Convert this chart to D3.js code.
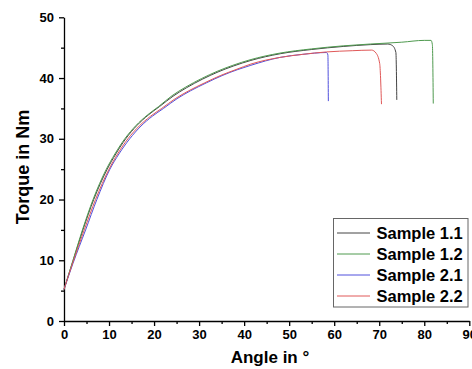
<!DOCTYPE html>
<html>
<head>
<meta charset="utf-8">
<script src="https://cdn.jsdelivr.net/npm/d3@7"></script>
<style>
body { margin: 0; background: #fff; }
text { font-family: Arial, "Liberation Sans", sans-serif; font-weight: bold; fill: #000; }
</style>
</head>
<body>
<svg width="472" height="369"></svg>
<script>
// series (angle in deg, torque in Nm)
var s11Angle  = [0, 2, 4.2, 6.6, 9.6, 11.5, 13.7, 16.2, 18.7, 21.2, 24.2, 27.2, 30.7, 34.2, 37.7, 41.5, 48, 55, 62, 68, 71.9, 73.0, 73.7, 73.9];
var s11Torque = [5.2, 9.9, 15, 20, 25, 27.5, 30, 32.2, 33.9, 35.3, 37.0, 38.4, 39.8, 41.0, 42.0, 42.9, 44.0, 44.7, 45.2, 45.5, 45.6, 45.3, 44.2, 36.4];

var s12Angle  = [0, 2, 4.1, 6.45, 9.4, 11.3, 13.5, 16, 18.5, 21, 24, 27, 30.5, 34, 37.5, 41.3, 47.9, 55, 62, 68, 75, 80, 81.5, 81.8, 82.0];
var s12Torque = [5.2, 10, 15, 20, 25, 27.5, 30, 32.2, 33.9, 35.3, 37.1, 38.5, 39.9, 41.1, 42.1, 43.0, 44.1, 44.8, 45.3, 45.6, 45.9, 46.2, 46.2, 45.5, 35.8];

var s21Angle  = [0, 2, 4.8, 7.3, 10.2, 12.2, 14.6, 17.1, 19.6, 22.1, 25.1, 28.1, 31.6, 35.1, 38.6, 41.5, 48, 53, 58.3, 58.6, 58.7];
var s21Torque = [5.2, 9.5, 15, 20, 25, 27.5, 30, 32.1, 33.7, 35.0, 36.6, 37.9, 39.2, 40.4, 41.4, 42.1, 43.4, 43.9, 44.2, 43.8, 36.2];

var s22Angle  = [0, 2, 4.5, 7.0, 10.0, 11.9, 14.2, 16.7, 19.2, 21.7, 24.7, 27.7, 31.2, 34.7, 38.2, 41.5, 48, 53, 58.3, 64, 68.3, 69.3, 70.1, 70.5];
var s22Torque = [5.2, 9.7, 15, 20, 25, 27.5, 30, 32.1, 33.7, 35.0, 36.6, 37.9, 39.2, 40.4, 41.4, 42.3, 43.4, 43.9, 44.3, 44.5, 44.6, 44.1, 42.4, 35.7];

var names = ["Sample 1.1", "Sample 1.2", "Sample 2.1", "Sample 2.2"];
var colors = ["#444444", "#4f9a4f", "#5050dd", "#e05858"];
var xTicks = [0, 10, 20, 30, 40, 50, 60, 70, 80, 90];
var yTicks = [0, 10, 20, 30, 40, 50];

var series = [
  {name: names[0], a: s11Angle, t: s11Torque},
  {name: names[1], a: s12Angle, t: s12Torque},
  {name: names[2], a: s21Angle, t: s21Torque},
  {name: names[3], a: s22Angle, t: s22Torque}
];

var svg = d3.select("svg");
var mLeft = 64, mRight = 469.3, mTop = 17.3, mBottom = 321;

var x = d3.scaleLinear().domain([0, 90]).range([mLeft, mRight]);
var y = d3.scaleLinear().domain([0, 50]).range([mBottom, mTop]);

// minor ticks
svg.append("g")
  .attr("transform", "translate(0," + mBottom + ")")
  .call(d3.axisBottom(x).tickValues(d3.range(5, 90, 10)).tickSize(3).tickFormat(""))
  .call(function(g){ g.select(".domain").remove(); });
svg.append("g")
  .attr("transform", "translate(" + mLeft + ",0)")
  .call(d3.axisLeft(y).tickValues(d3.range(5, 50, 10)).tickSize(3).tickFormat(""))
  .call(function(g){ g.select(".domain").remove(); });

svg.append("g")
  .attr("transform", "translate(0," + mBottom + ")")
  .call(d3.axisBottom(x).tickValues(xTicks).tickSize(5).tickPadding(4).tickSizeOuter(0));
svg.append("g")
  .attr("transform", "translate(" + mLeft + ",0)")
  .call(d3.axisLeft(y).tickValues(yTicks).tickSize(5).tickPadding(5).tickSizeOuter(0));

svg.selectAll(".tick text")
  .style("font-size", "13px")
  .style("font-family", "Arial, 'Liberation Sans', sans-serif")
  .style("font-weight", "bold");
svg.selectAll(".domain, .tick line").attr("stroke", "#000").attr("stroke-width", 1.3);

var line = d3.line()
  .x(function(d){ return x(d[0]); })
  .y(function(d){ return y(d[1]); })
  .curve(d3.curveMonotoneX);

series.forEach(function(s, i){
  svg.append("path")
    .datum(d3.zip(s.a, s.t))
    .attr("fill", "none")
    .attr("stroke", colors[i])
    .attr("stroke-width", 1)
    .attr("d", line);
});

// axis titles
svg.append("text")
  .attr("x", 270).attr("y", 363)
  .attr("text-anchor", "middle")
  .style("font-size", "17px")
  .text("Angle in °");
svg.append("text")
  .attr("transform", "translate(29,167) rotate(-90)")
  .attr("text-anchor", "middle")
  .style("font-size", "18px")
  .text("Torque in Nm");

// legend
var lg = svg.append("g");
lg.append("rect")
  .attr("x", 333.5).attr("y", 218.5)
  .attr("width", 134.5).attr("height", 88.5)
  .attr("fill", "#fff")
  .attr("stroke", "#666");
names.forEach(function(n, i){
  var cy = 233 + i * 21;
  lg.append("line")
    .attr("x1", 337).attr("x2", 370)
    .attr("y1", cy).attr("y2", cy)
    .attr("stroke", colors[i]);
  lg.append("text")
    .attr("x", 376.5).attr("y", cy + 6)
    .style("font-size", "16.5px")
    .text(n);
});
</script>
</body>
</html>
